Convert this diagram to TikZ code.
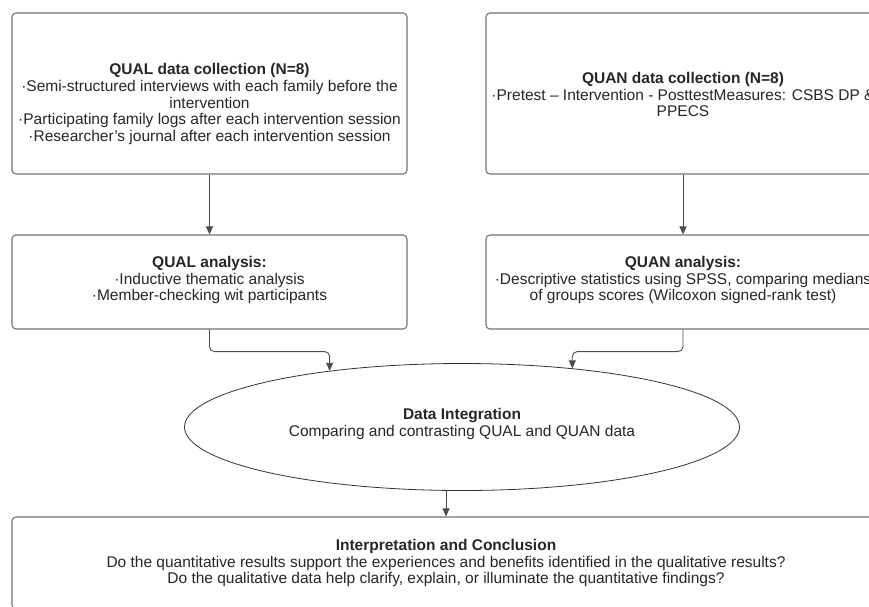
\documentclass[tikz,border=0pt]{standalone}
\usepackage{fontspec}
\setmainfont{Liberation Sans}
\usetikzlibrary{shapes.geometric,arrows.meta}
\begin{document}
\begin{tikzpicture}[x=1pt,y=-1pt,
    box/.style={draw=black!55,line width=1.1pt,rounded corners=4pt,inner sep=0pt},
    txt/.style={align=center,font=\fontsize{15.5}{16.6}\selectfont,text=black!85},
    arr/.style={draw=black!70,line width=0.9pt,-{Triangle[length=8pt,width=7pt]}}]
      \useasboundingbox (0,0) rectangle (869,606);
      \draw
        (209.5,93.5) node[box,minimum width=395pt,minimum height=161pt] (qualcol){}
        (683,93.5) node[box,minimum width=394pt,minimum height=161pt] (quancol){}
        (209.5,282) node[box,minimum width=395pt,minimum height=94pt] (qualan){}
        (683,282) node[box,minimum width=394pt,minimum height=94pt] (quanan){}
        (462,427) node[ellipse,draw=black!80,line width=0.8pt,inner sep=0pt,minimum width=555pt,minimum height=127pt] (integ){}
        (446,563) node[box,minimum width=868pt,minimum height=92pt] (interp){};
      \draw
        (209.5,104) node[txt] (qualcoltxt){\textbf{QUAL data collection (N=8)}\\
          ·Semi-structured interviews with each family before the\\ intervention\\
          ·Participating family logs after each intervention session\\
          ·Researcher's journal after each intervention session}
        (683,94.5) node[txt] (quancoltxt){\textbf{QUAN data collection (N=8)}\\
          ·Pretest – Intervention - PosttestMeasures: CSBS DP \&\\ PPECS}
        (209.5,280) node[txt] (qualantxt){\textbf{QUAL analysis:}\\
          ·Inductive thematic analysis\\ ·Member-checking wit participants}
        (683,280) node[txt] (quanantxt){\textbf{QUAN analysis:}\\
          ·Descriptive statistics using SPSS, comparing medians\\
          of groups scores (Wilcoxon signed-rank test)}
        (462,424) node[txt] (integtxt){\textbf{Data Integration}\\
          Comparing and contrasting QUAL and QUAN data}
        (446,563) node[txt] (interptxt){\textbf{Interpretation and Conclusion}\\
          Do the quantitative results support the experiences and benefits identified in the qualitative results?\\
          Do the qualitative data help clarify, explain, or illuminate the quantitative findings?};
      \begin{scope}[arr]
        \draw (qualcol) to (qualan);
        \draw (quancol) to (quanan);
        \draw[rounded corners=5pt] (qualan.south) -- ++(0,22) -| (integ.157);
        \draw[rounded corners=5pt] (quanan.south) -- ++(0,22) -| (integ.28);
        \draw (integ.south -| interp.north) to (interp);
      \end{scope}
    \end{tikzpicture}
\end{document}
